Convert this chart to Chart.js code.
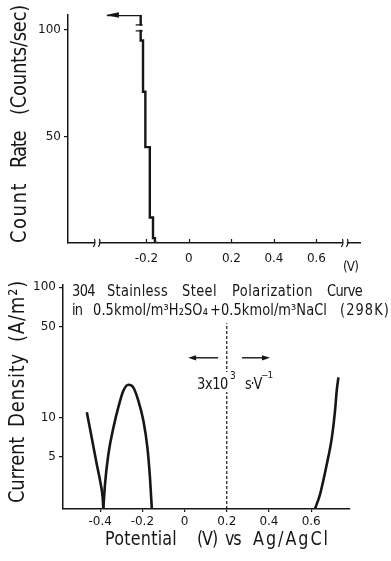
<!DOCTYPE html>
<html>
<head>
<meta charset="utf-8">
<script src="https://cdn.jsdelivr.net/npm/chart.js"></script>
<style>
  html,body{margin:0;background:#fff}
  #wrap{position:relative;width:391px;height:561px;overflow:hidden;background:#fff}
  #wrap canvas{position:absolute;left:0;top:0}
</style>
</head>
<body>
<div id="wrap">
  <canvas id="rate" width="391" height="561"></canvas>
  <canvas id="pol" width="391" height="561"></canvas>
</div>
<script>
/* =====  values  ===== */
// upper panel: count rate vs potential (stepped trace, scanned right -> left)
const rateV      = [-0.386, -0.227, -0.216, -0.205, -0.184, -0.169, -0.160, -0.146];
const rateCounts = [107, 95, 71, 45, 12, 2.3, 0, 0];
const rateTicksX = [-0.2, 0, 0.2, 0.4, 0.6];
const rateTicksY = [50, 100];

// lower panel: polarization curve (log current density)
const cathV   = [-0.463, -0.440, -0.416, -0.397, -0.388, -0.385];
const cathI   = [11.0, 7.05, 4.4, 3.09, 2.44, 2.0];
const activeV = [-0.385, -0.377, -0.361, -0.337, -0.314, -0.290, -0.266, -0.243, -0.219, -0.195, -0.176, -0.164, -0.155];
const activeI = [2.0, 3.09, 5.25, 8.4, 12.0, 16.1, 17.9, 17.1, 13.5, 9.5, 5.9, 3.5, 2.0];
const pitV    = [0.618, 0.642, 0.674, 0.698, 0.713, 0.721, 0.729];
const pitI    = [2.0, 2.59, 4.4, 7.05, 11.3, 16.1, 20.4];
const sweepV  = [0.2, 0.2];
const sweepI  = [2, 53];
const polTicksX = [-0.4, -0.2, 0, 0.2, 0.4, 0.6];
const polTicksY = [5, 10, 50, 100];

/* =====  common look  ===== */
const INK  = '#161616';
const FONT = '"DejaVu Sans", sans-serif';
Chart.defaults.font.family = FONT;
Chart.defaults.font.size = 12;
Chart.defaults.color = INK;

const pts = (xs, ys) => xs.map((x, i) => ({x, y: ys[i]}));
const fixTicks = arr => s => { s.ticks = arr.map(v => ({value: v})); };

/* draw a word fitted between x0 and x1, lettering a bit taller than the font */
function fitWord(ctx, txt, x0, x1, y, size, sy = 1.18){
  ctx.save();
  ctx.font = size + 'px ' + FONT;
  ctx.fillStyle = INK;
  ctx.textAlign = 'left';
  ctx.textBaseline = 'middle';
  ctx.letterSpacing = '0px';
  const w = ctx.measureText(txt).width;
  const n = [...txt].length;
  const ls = Math.max(-1.2, Math.min(4, (x1 - x0 - w) / n));
  ctx.letterSpacing = ls + 'px';
  ctx.translate(x0, y);
  ctx.scale(1, sy);
  ctx.fillText(txt, 0, 0);
  ctx.restore();
}
function vWord(ctx, txt, cx, yBot, yTop, size){
  ctx.save();
  ctx.translate(cx, yBot);
  ctx.rotate(-Math.PI / 2);
  fitWord(ctx, txt, 0, yBot - yTop, 0, size);
  ctx.restore();
}
function arrow(ctx, x0, x1, y){
  const dir = Math.sign(x1 - x0);
  ctx.save();
  ctx.strokeStyle = INK; ctx.fillStyle = INK; ctx.lineWidth = 1.4;
  ctx.beginPath(); ctx.moveTo(x0, y); ctx.lineTo(x1 - dir * 6, y); ctx.stroke();
  ctx.beginPath(); ctx.moveTo(x1, y); ctx.lineTo(x1 - dir * 8, y - 2.6); ctx.lineTo(x1 - dir * 8, y + 2.6); ctx.closePath(); ctx.fill();
  ctx.restore();
}
function breakMark(ctx, x, y){
  ctx.save();
  ctx.fillStyle = '#fff';
  ctx.fillRect(x - 2, y - 3, 4, 6);
  ctx.strokeStyle = INK; ctx.lineWidth = 1.2;
  ctx.beginPath();
  ctx.moveTo(x - 3.5, y + 4); ctx.quadraticCurveTo(x - 1, y, x - 2.5, y - 4);
  ctx.moveTo(x + 1.5, y + 4); ctx.quadraticCurveTo(x + 4, y, x + 2.5, y - 4);
  ctx.stroke();
  ctx.restore();
}

/* =====  upper panel extras  ===== */
const rateExtras = {
  id: 'rateExtras',
  afterDatasetsDraw(chart){
    const {ctx, scales:{x, y}} = chart;
    const base = chart.chartArea.bottom;
    // inward tick marks on the potential axis
    ctx.save();
    ctx.strokeStyle = INK; ctx.lineWidth = 1.2;
    rateTicksX.forEach(v => {
      const px = Math.round(x.getPixelForValue(v)) + 0.5;
      ctx.beginPath(); ctx.moveTo(px, base); ctx.lineTo(px, base - 4); ctx.stroke();
    });
    ctx.restore();
    // arrow head at the start of the scan
    const tx = x.getPixelForValue(rateV[0]), ty = y.getPixelForValue(rateCounts[0]);
    ctx.save(); ctx.fillStyle = INK;
    ctx.beginPath(); ctx.moveTo(tx - 1, ty); ctx.lineTo(tx + 12, ty - 2.8); ctx.lineTo(tx + 12, ty + 2.8); ctx.closePath(); ctx.fill();
    ctx.restore();
    // break on the trace near 100 counts
    const bx = x.getPixelForValue(rateV[1]), by = y.getPixelForValue(101);
    ctx.save();
    ctx.fillStyle = '#fff'; ctx.fillRect(bx - 3, by - 2, 6, 4);
    ctx.strokeStyle = INK; ctx.lineWidth = 1.2;
    ctx.beginPath();
    ctx.moveTo(bx - 5, by - 3); ctx.lineTo(bx + 2, by - 3);
    ctx.moveTo(bx - 5, by + 3); ctx.lineTo(bx + 2, by + 3);
    ctx.stroke();
    ctx.restore();
    // axis breaks
    breakMark(ctx, x.getPixelForValue(-0.433), base);
    breakMark(ctx, x.getPixelForValue(0.734), base);
    // unit and axis title
    fitWord(ctx, '(V)', 343, 358, 267, 12);
    vWord(ctx, 'Count', 20, 243, 182, 18);
    vWord(ctx, 'Rate', 20, 168, 132, 18);
    vWord(ctx, '(Counts/sec)', 20, 115, 5, 18);
  }
};

new Chart(document.getElementById('rate'), {
  type: 'line',
  data: {
    datasets: [{
      data: pts(rateV, rateCounts),
      stepped: 'before',
      borderColor: INK, borderWidth: 2.4,
      pointRadius: 0, fill: false
    }]
  },
  options: {
    responsive: false, animation: false,
    layout: {padding: {top: 15, right: 31, left: 0, bottom: 0}},
    plugins: {legend: {display: false}, tooltip: {enabled: false}},
    scales: {
      x: {
        type: 'linear', min: -0.569, max: 0.805,
        afterFit: s => { s.height = 318; },
        afterBuildTicks: fixTicks(rateTicksX),
        grid: {drawOnChartArea: false, drawTicks: false},
        border: {color: INK, width: 1.5},
        ticks: {padding: 9, maxRotation: 0, autoSkip: false, callback: v => String(v)}
      },
      y: {
        type: 'linear', min: 0, max: 107,
        afterFit: s => { s.width = 68; },
        afterBuildTicks: fixTicks(rateTicksY),
        grid: {drawOnChartArea: false, tickLength: 4, color: INK, lineWidth: 1.2},
        border: {color: INK, width: 1.5},
        ticks: {padding: 3, callback: v => String(v)}
      }
    }
  },
  plugins: [rateExtras]
});

/* =====  lower panel extras  ===== */
const polExtras = {
  id: 'polExtras',
  afterDatasetsDraw(chart){
    const {ctx, scales:{x, y}} = chart;
    // title block
    fitWord(ctx, '304', 72, 95, 292, 13);
    fitWord(ctx, 'Stainless', 107, 168, 292, 13);
    fitWord(ctx, 'Steel', 182, 217, 292, 13);
    fitWord(ctx, 'Polarization', 232, 313, 292, 13);
    fitWord(ctx, 'Curve', 327, 362, 292, 13);
    fitWord(ctx, 'in', 72, 82, 311, 13);
    fitWord(ctx, '0.5kmol/m³H₂SO₄', 93, 208, 311, 13);
    fitWord(ctx, '+', 210, 219, 311, 13);
    fitWord(ctx, '0.5kmol/m³NaCl', 221, 327, 311, 13);
    fitWord(ctx, '(298K)', 340, 390, 311, 13);
    // sweep-rate note across the dashed line
    const ay = y.getPixelForValue(28.8);
    arrow(ctx, x.getPixelForValue(0.159), x.getPixelForValue(0.017), ay);
    arrow(ctx, x.getPixelForValue(0.272), x.getPixelForValue(0.405), ay);
    ctx.save(); ctx.fillStyle = '#fff'; ctx.fillRect(196, 372, 42, 20); ctx.restore();
    fitWord(ctx, '3x10', 197, 228, 385, 13);
    fitWord(ctx, '3', 230, 235, 376, 9);
    fitWord(ctx, 's·V', 245, 260, 385, 13);
    fitWord(ctx, '−1', 261, 272, 376, 9, 1);
    // axis titles
    fitWord(ctx, 'Potential', 105, 177, 540, 16);
    fitWord(ctx, '(V)', 197, 217, 540, 16);
    fitWord(ctx, 'vs', 225, 240, 540, 16);
    fitWord(ctx, 'Ag/AgCl', 253, 330, 540, 16);
    vWord(ctx, 'Current', 18, 503, 437, 18);
    vWord(ctx, 'Density', 18, 427, 353, 18);
    vWord(ctx, '(A/m²)', 18, 342, 280, 18);
  }
};

const curve = (xs, ys) => ({
  data: pts(xs, ys),
  borderColor: INK, borderWidth: 2.6,
  pointRadius: 0, fill: false,
  cubicInterpolationMode: 'monotone'
});

new Chart(document.getElementById('pol'), {
  type: 'line',
  data: {
    datasets: [
      curve(cathV, cathI),
      curve(activeV, activeI),
      curve(pitV, pitI),
      {data: pts(sweepV, sweepI), borderColor: INK, borderWidth: 1.2, borderDash: [3, 2], pointRadius: 0, fill: false}
    ]
  },
  options: {
    responsive: false, animation: false,
    layout: {padding: {top: 285, right: 41, left: 0, bottom: 0}},
    plugins: {legend: {display: false}, tooltip: {enabled: false}},
    scales: {
      x: {
        type: 'linear', min: -0.576, max: 0.784,
        afterFit: s => { s.height = 52; },
        afterBuildTicks: fixTicks(polTicksX),
        grid: {drawOnChartArea: false, tickLength: 3, color: INK, lineWidth: 1.2},
        border: {color: INK, width: 1.5},
        ticks: {padding: 3, maxRotation: 0, autoSkip: false, callback: v => String(v)}
      },
      y: {
        type: 'logarithmic', min: 2, max: 104,
        afterFit: s => { s.width = 63; },
        afterBuildTicks: fixTicks(polTicksY),
        grid: {drawOnChartArea: false, tickLength: 4, color: INK, lineWidth: 1.2},
        border: {color: INK, width: 1.5},
        ticks: {padding: 3, callback: v => String(v)}
      }
    }
  },
  plugins: [polExtras]
});
</script>
</body>
</html>
